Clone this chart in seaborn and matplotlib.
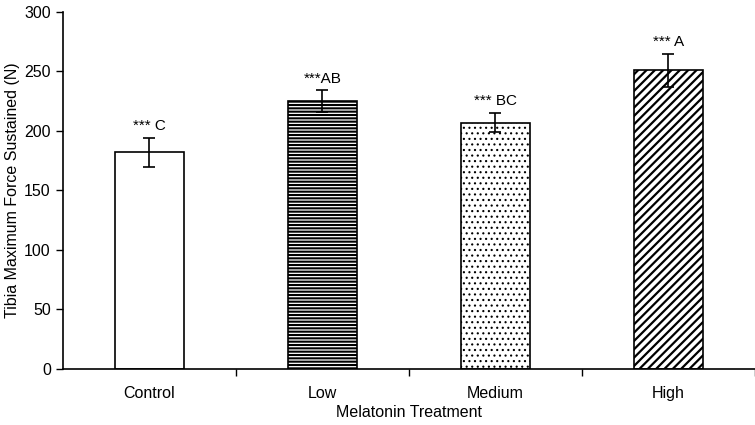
import numpy as np
import pandas as pd
import matplotlib
matplotlib.use("Agg")
import matplotlib.pyplot as plt
import seaborn as sns

treatments = ["Control", "Low", "Medium", "High"]
force_mean = [182, 225, 207, 251]
force_se = [12, 9, 8, 14]
letters = ["*** C", "***AB", "*** BC", "*** A"]
hatches = ["", "-----", "...", "////"]
hatch_lw = [1.0, 1.5, 0.8, 1.6]

df = pd.DataFrame({"treatment": treatments, "force": force_mean})

sns.set_style("ticks")
plt.rcParams["font.family"] = ["Liberation Sans", "DejaVu Sans"]
plt.rcParams["text.color"] = "black"
plt.rcParams["xtick.color"] = "black"
plt.rcParams["ytick.color"] = "black"
plt.rcParams["axes.labelcolor"] = "black"
plt.rcParams["axes.edgecolor"] = "black"

fs = 11.5

fig = plt.figure(figsize=(7.55, 4.25), dpi=100)
ax = fig.add_axes([0.083, 0.132, 0.917, 0.84])

sns.barplot(data=df, x="treatment", y="force", color="white", edgecolor="black",
            linewidth=1.2, width=0.4, errorbar=None, ax=ax)

for patch, h, lw in zip(ax.patches, hatches, hatch_lw):
    patch.set_hatch(h)
    if hasattr(patch, "set_hatch_linewidth"):
        patch.set_hatch_linewidth(lw)

xpos = np.arange(len(treatments))
ax.errorbar(xpos, force_mean, yerr=force_se, fmt="none", ecolor="black",
            elinewidth=1.2, capsize=4, capthick=1.2)

for x, m, s, lab in zip(xpos, force_mean, force_se, letters):
    ax.text(x, m + s + 4, lab, ha="center", va="bottom", fontsize=fs - 0.5)

ax.set_xlim(-0.5, 3.5)
ax.set_ylim(0, 300)
ax.set_yticks(range(0, 301, 50))
ax.set_xticks(xpos)
ax.set_xticklabels(treatments)
ax.set_xticks(xpos + 0.5, minor=True)
ax.tick_params(axis="x", which="major", length=0, pad=12, labelsize=fs)
ax.tick_params(axis="x", which="minor", length=5, width=1, direction="out")
ax.tick_params(axis="y", length=5, width=1, labelsize=fs)
ax.set_xlabel("Melatonin Treatment", fontsize=fs, labelpad=3)
ax.set_ylabel("Tibia Maximum Force Sustained (N)", fontsize=fs, labelpad=3)
sns.despine(ax=ax)
for sp in ["left", "bottom"]:
    ax.spines[sp].set_linewidth(1.2)

fig.savefig("out.png", dpi=100)
